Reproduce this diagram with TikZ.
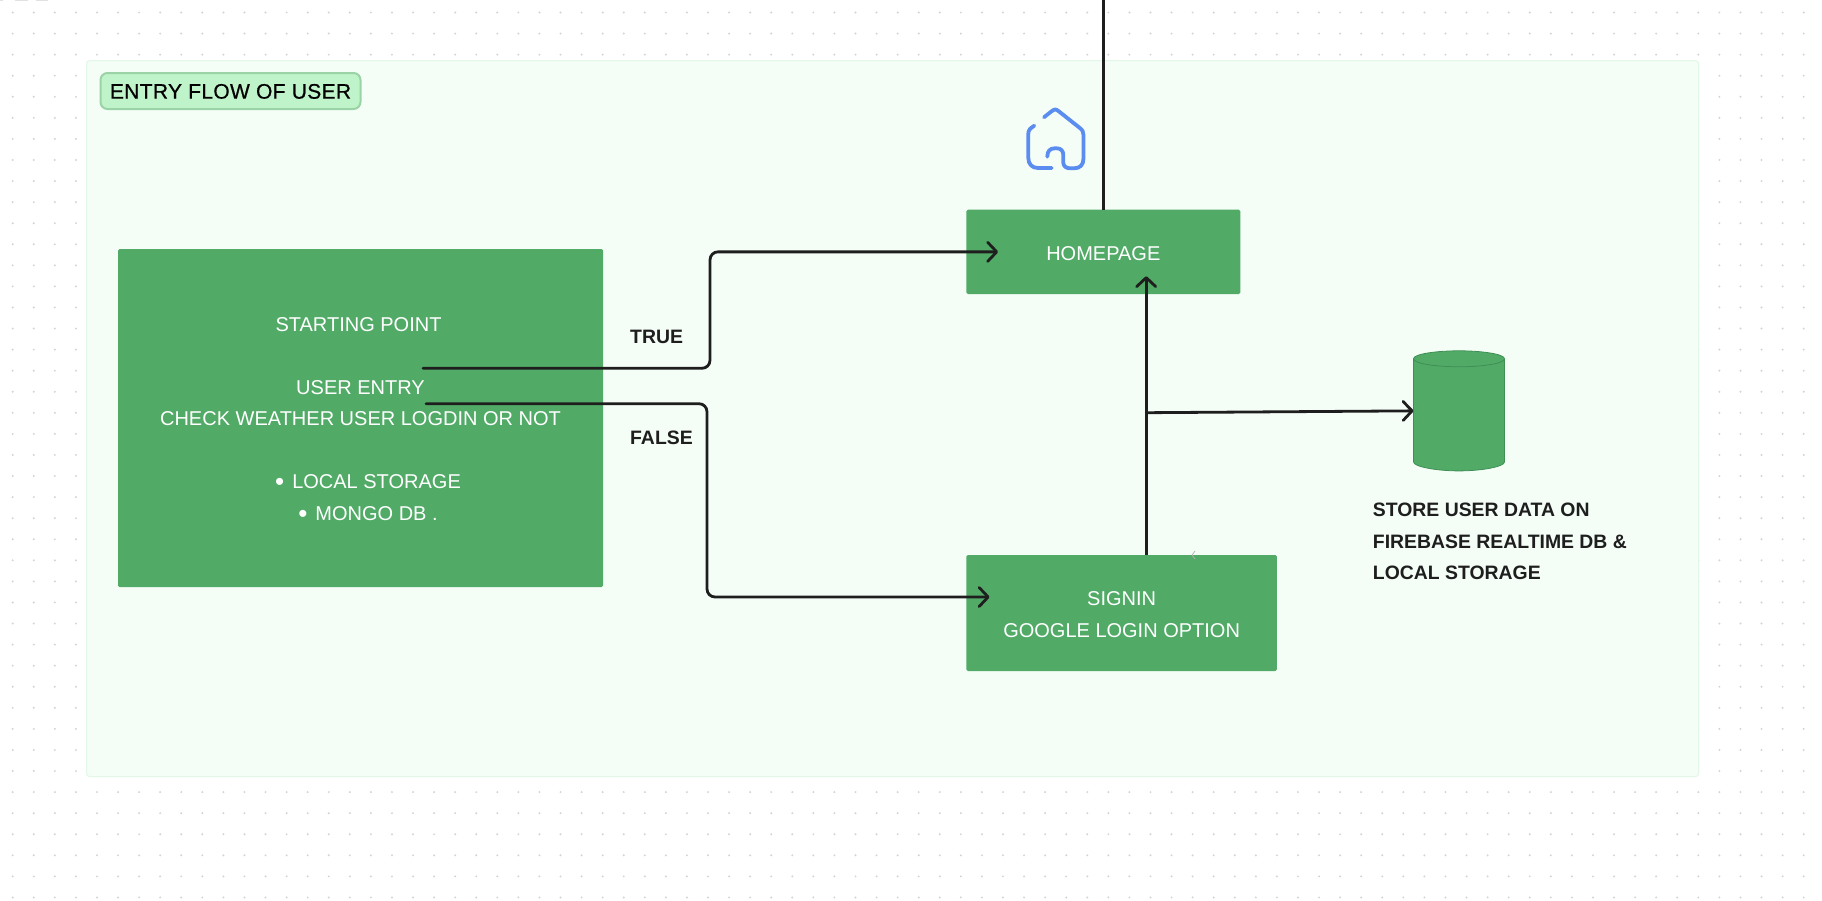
\documentclass[tikz,border=0pt]{standalone}
\usepackage{fontspec}
\setmainfont{Liberation Sans}
\usetikzlibrary{arrows.meta,calc}
\definecolor{boxgreen}{HTML}{51AB67}
\definecolor{boxline}{HTML}{3F8F55}
\definecolor{framefill}{HTML}{F4FEF7}
\definecolor{frameline}{HTML}{E2F7E7}
\definecolor{tagfill}{HTML}{BFF3C9}
\definecolor{tagline}{HTML}{9CD3A6}
\definecolor{ink}{HTML}{1E1E1E}
\definecolor{dotc}{HTML}{D4D4D4}
\definecolor{iconblue}{HTML}{5B8CF0}
\newcommand{\topfix}{\rule{0pt}{17pt}}
\newcommand{\bigdot}{{\fontsize{26}{31.5}\selectfont\raisebox{-2pt}{•}}}
\tikzset{
  x=1pt,y=-1pt,
  greenbox/.style={fill=boxgreen,rounded corners=1.5pt,inner sep=0pt,text=white,align=center,
    font=\fontsize{20}{31.5}\selectfont},
  boldlabel/.style={inner sep=0pt,text=ink,align=left,font=\fontsize{19.4}{31.5}\selectfont\bfseries},
  flow/.style={draw=ink,line width=2.8pt,line cap=round,rounded corners=8pt},
  flowtip/.style={flow,-{Straight Barb[length=9pt,width=19pt,line width=2.8pt,round]}},
  iconline/.style={draw=iconblue,line width=3.8pt,line cap=round,line join=round},
}
\begin{document}
\begin{tikzpicture}
\path[use as bounding box,fill=white] (0,0) rectangle (1822,900);
% dotted canvas
\foreach \i in {0,...,86}{
  \foreach \j in {0,...,42}{
    \fill[dotc] ({12.7+21.07*\i},{12.5+21.07*\j}) circle[radius=1.1];
  }
}
% scraps at the top edge
\fill[dotc!70] (0,0) rectangle (3,1);
\fill[dotc!70] (15,0) rectangle (28,1);
\fill[dotc!70] (36,0) rectangle (48,1);
% frame
\node[fill=framefill,draw=frameline,line width=1pt,rounded corners=3pt,inner sep=0pt,
  minimum width=1612pt,minimum height=716pt] (frame) at (892.6,418.6) {};
\node[fill=tagfill,draw=tagline,line width=2pt,rounded corners=7pt,inner sep=0pt,
  minimum width=260pt,minimum height=36pt,text=black,
  font=\fontsize{21}{25}\selectfont] (tag) at (230.5,91) {\addfontfeatures{LetterSpace=1.6,FakeBold=0.6}\rule{0pt}{15.5pt}ENTRY FLOW OF USER};
% boxes
\node[greenbox,minimum width=485pt,minimum height=338pt] (start) at (360.5,418) {%
  \topfix STARTING POINT\hspace*{4pt}\\[31.5pt]
  USER ENTRY\\
  CHECK WEATHER USER LOGDIN OR NOT\\[31.5pt]
  \hspace*{15pt}\bigdot\hspace{8pt}LOCAL STORAGE\\
  \hspace*{15pt}\bigdot\hspace{8pt}MONGO DB .};
\node[greenbox,minimum width=274pt,minimum height=84.3pt] (home) at (1103.3,251.85) {\topfix HOMEPAGE};
\node[greenbox,minimum width=310.7pt,minimum height=116pt] (signin) at (1121.6,613) {\topfix SIGNIN\\GOOGLE LOGIN OPTION};
% database
\node[inner sep=0pt,minimum width=90.6pt,minimum height=119.7pt] (db) at (1459,410.85) {};
\fill[boxgreen,draw=boxline,line width=.8pt]
  ($(db.north west)+(0,8)$) -- ($(db.south west)+(0,-9)$)
  .. controls ($(db.south west)+(0,-4)$) and ($(db.south west)+(24,0)$) .. (db.south)
  .. controls ($(db.south east)+(-24,0)$) and ($(db.south east)+(0,-4)$) .. ($(db.south east)+(0,-9)$)
  -- ($(db.north east)+(0,8)$)
  .. controls ($(db.north east)+(0,3)$) and ($(db.north east)+(-24,0)$) .. (db.north)
  .. controls ($(db.north west)+(24,0)$) and ($(db.north west)+(0,3)$) .. ($(db.north west)+(0,8)$)
  .. controls ($(db.north west)+(0,13)$) and ($(db.north west)+(24,16)$) .. ($(db.north)+(0,16)$)
  .. controls ($(db.north east)+(-24,16)$) and ($(db.north east)+(0,13)$) .. ($(db.north east)+(0,8)$);
% labels
\node[boldlabel,anchor=west] (truel) at (630,337) {TRUE};
\node[boldlabel,anchor=west] (falsel) at (630,438) {FALSE};
\node[boldlabel,anchor=west] (store) at (1372.7,541.7) {STORE USER DATA ON\\FIREBASE REALTIME DB \&\\LOCAL STORAGE};
% connector ends
\coordinate (topend) at (1103.3,0);
\coordinate (truefrom) at (423,368.3);
\coordinate (falsefrom) at (426,403.7);
\coordinate (branch) at (1146.2,412.7);
% connectors
\draw[flow,line cap=butt] (topend) -- (home.north);
\draw[flowtip] (truefrom) -- (710,368.3) -- (710,251.85) -- ($(home.west)+(32,0)$);
\draw[flowtip] (falsefrom) -- (707,403.7) -- (707,597) -- ($(signin.west)+(23.5,-16)$);
\draw[flowtip,line cap=butt] (signin.north -| branch) -- ($(home.south -| branch)+(0,-18)$);
\draw[flowtip] (branch) -- (db.west);
% faint chevron on the sign-in box
\draw[draw=black!30,line width=.7pt] (1195,551) -- (1192,555) -- (1195,559);
% house icon
\draw[iconline]
  (1044,117.3) -- (1051,111.7) .. controls (1055,108.7) and (1055.5,108.7) .. (1059.3,111.7)
  -- (1079.5,127.7) .. controls (1082.5,130) and (1083.5,132) .. (1083.5,135)
  -- (1083.5,158.3) .. controls (1083.5,165) and (1080,168.3) .. (1074,168.3)
  -- (1070,168.3) .. controls (1066,168.3) and (1063.3,166) .. (1063.3,162.7)
  -- (1063.3,155) .. controls (1063.3,151) and (1061,148.3) .. (1056.7,148.3)
  -- (1055,148.3) .. controls (1050,148.3) and (1047.3,151) .. (1047.3,156.7);
\draw[iconline]
  (1034.3,125.7) .. controls (1030,128.5) and (1028.3,130) .. (1028.3,134)
  -- (1028.3,158) .. controls (1028.3,164) and (1032,168) .. (1038,168)
  -- (1051.7,168);
\end{tikzpicture}
\end{document}
